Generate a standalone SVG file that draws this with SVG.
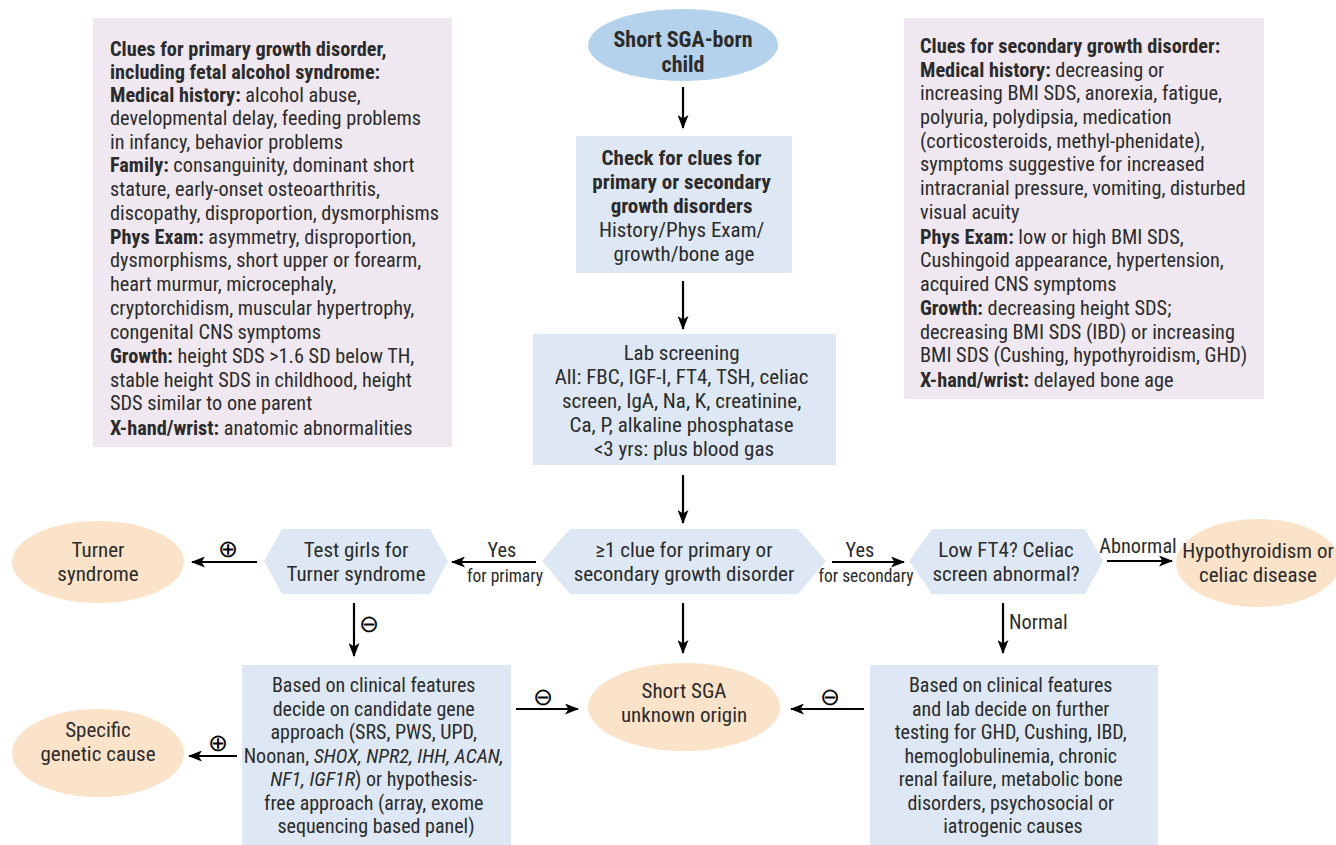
<svg xmlns="http://www.w3.org/2000/svg" width="1336" height="845" viewBox="0 0 1336 845">
<style>
text{font-family:"Liberation Sans Narrow","Roboto Condensed","Liberation Sans",sans-serif;font-size:20.3px;fill:#2b2b2b}
.c{text-anchor:middle}
.b{font-weight:bold}
.i{font-style:italic}
.s{font-size:17.5px}
.big{font-size:21px}
.sm{font-size:20px}
.sym{font-family:"DejaVu Sans",sans-serif;font-size:24px;font-weight:200;fill:#000}
.lav{fill:#efe8f0}
.box{fill:#dde8f4}
.top{fill:#b5d2ec}
.ora{fill:#fbe3c9}
.con line{stroke:#000;stroke-width:2.2;marker-end:url(#ah)}
</style>
<defs>
<marker id="ah" viewBox="0 0 14 11" refX="13" refY="5.5" markerWidth="6.4" markerHeight="5" orient="auto" markerUnits="strokeWidth">
<path d="M0,0 L14,5.5 L0,11 L3.5,5.5 z" fill="#000"/>
</marker>
</defs>
<rect width="1336" height="845" fill="#fff"/>

<g id="primary-clues">
<rect class="lav" x="93" y="18" width="359" height="429"/>
<text x="110" y="56"><tspan class="b">Clues for primary growth disorder,</tspan>
<tspan x="110" dy="22.8" class="b">including fetal alcohol syndrome:</tspan>
<tspan x="110" dy="22.8"><tspan class="b">Medical history:</tspan> alcohol abuse,</tspan>
<tspan x="110" dy="23.5">developmental delay, feeding problems</tspan>
<tspan x="110" dy="23.5">in infancy, behavior problems</tspan>
<tspan x="110" dy="23.7"><tspan class="b">Family:</tspan> consanguinity, dominant short</tspan>
<tspan x="110" dy="23.7">stature, early-onset osteoarthritis,</tspan>
<tspan x="110" dy="24">discopathy, disproportion, dysmorphisms</tspan>
<tspan x="110" dy="23.7"><tspan class="b">Phys Exam:</tspan> asymmetry, disproportion,</tspan>
<tspan x="110" dy="23.7">dysmorphisms, short upper or forearm,</tspan>
<tspan x="110" dy="23.7">heart murmur, microcephaly,</tspan>
<tspan x="110" dy="23.7">cryptorchidism, muscular hypertrophy,</tspan>
<tspan x="110" dy="23.7">congenital CNS symptoms</tspan>
<tspan x="110" dy="24.5"><tspan class="b">Growth:</tspan> height SDS &gt;1.6 SD below TH,</tspan>
<tspan x="110" dy="23.7">stable height SDS in childhood, height</tspan>
<tspan x="110" dy="23.7">SDS similar to one parent</tspan>
<tspan x="110" dy="24.5"><tspan class="b">X-hand/wrist:</tspan> anatomic abnormalities</tspan></text>
</g>

<g id="secondary-clues">
<rect class="lav" x="904" y="18" width="360" height="381"/>
<text x="920" y="53"><tspan class="b">Clues for secondary growth disorder:</tspan>
<tspan x="920" dy="23.5"><tspan class="b">Medical history:</tspan> decreasing or</tspan>
<tspan x="920" dy="23.7">increasing BMI SDS, anorexia, fatigue,</tspan>
<tspan x="920" dy="23.7">polyuria, polydipsia, medication</tspan>
<tspan x="920" dy="23.7">(corticosteroids, methyl-phenidate),</tspan>
<tspan x="920" dy="23.7">symptoms suggestive for increased</tspan>
<tspan x="920" dy="24">intracranial pressure, vomiting, disturbed</tspan>
<tspan x="920" dy="23.7">visual acuity</tspan>
<tspan x="920" dy="24.5"><tspan class="b">Phys Exam:</tspan> low or high BMI SDS,</tspan>
<tspan x="920" dy="23.7">Cushingoid appearance, hypertension,</tspan>
<tspan x="920" dy="23.7">acquired CNS symptoms</tspan>
<tspan x="920" dy="24"><tspan class="b">Growth:</tspan> decreasing height SDS;</tspan>
<tspan x="920" dy="23.7">decreasing BMI SDS (IBD) or increasing</tspan>
<tspan x="920" dy="23.7">BMI SDS (Cushing, hypothyroidism, GHD)</tspan>
<tspan x="920" dy="24.5"><tspan class="b">X-hand/wrist:</tspan> delayed bone age</tspan></text>
</g>

<g id="start">
<ellipse class="top" cx="683" cy="45" rx="95" ry="36"/>
<text class="c b" x="683" y="47" style="font-size:22px"><tspan>Short SGA-born</tspan><tspan x="683" dy="25">child</tspan></text>
</g>

<g id="check">
<rect class="box" x="576" y="136" width="216" height="137"/>
<text class="c big" x="684" y="165"><tspan class="b">Check for clues for</tspan>
<tspan x="684" dy="24" class="b">primary or secondary</tspan>
<tspan x="684" dy="24" class="b">growth disorders</tspan>
<tspan x="684" dy="24">History/Phys Exam/</tspan>
<tspan x="684" dy="24">growth/bone age</tspan></text>
</g>

<g id="lab">
<rect class="box" x="533" y="334" width="303" height="131"/>
<text class="c big" x="684" y="360"><tspan>Lab screening</tspan>
<tspan x="684" dy="24">All: FBC, IGF-I, FT4, TSH, celiac</tspan>
<tspan x="684" dy="24">screen, IgA, Na, K, creatinine,</tspan>
<tspan x="684" dy="24">Ca, P, alkaline phosphatase</tspan>
<tspan x="684" dy="24">&lt;3 yrs: plus blood gas</tspan></text>
</g>

<g id="decision">
<polygon class="box" points="570,529 798,529 826,561 798,594 570,594 542,561"/>
<text class="c big" x="684" y="557"><tspan>≥1 clue for primary or</tspan><tspan x="684" dy="24">secondary growth disorder</tspan></text>
</g>

<g id="turner-test">
<polygon class="box" points="282,529 430,529 448,561 430,594 282,594 264,561"/>
<text class="c big" x="356" y="557"><tspan>Test girls for</tspan><tspan x="356" dy="24">Turner syndrome</tspan></text>
</g>

<g id="turner">
<ellipse class="ora" cx="98" cy="562" rx="86" ry="41"/>
<text class="c big" x="98" y="557"><tspan>Turner</tspan><tspan x="98" dy="24">syndrome</tspan></text>
</g>

<g id="ft4-test">
<polygon class="box" points="932,529 1085,529 1103,561 1085,594 932,594 909,561"/>
<text class="c big" x="1006" y="557"><tspan>Low FT4? Celiac</tspan><tspan x="1006" dy="24">screen abnormal?</tspan></text>
</g>

<g id="hypothyroidism">
<ellipse class="ora" cx="1258" cy="563" rx="82" ry="44"/>
<text class="c big" x="1258" y="558"><tspan>Hypothyroidism or</tspan><tspan x="1258" dy="24">celiac disease</tspan></text>
</g>

<g id="genetic-box">
<rect class="box" x="242" y="665" width="269" height="180"/>
<text class="c sm" x="376" y="692"><tspan>Based on clinical features</tspan>
<tspan x="376" dy="23.5">decide on candidate gene</tspan>
<tspan x="376" dy="23.5">approach (SRS, PWS, UPD,</tspan>
<tspan x="376" dy="23.5">Noonan, <tspan class="i">SHOX, NPR2, IHH, ACAN,</tspan></tspan>
<tspan x="376" dy="23.5"><tspan class="i">NF1, IGF1R</tspan>) or hypothesis-</tspan>
<tspan x="376" dy="23.5">free approach (array, exome</tspan>
<tspan x="376" dy="23.5">sequencing based panel)</tspan></text>
</g>

<g id="specific">
<ellipse class="ora" cx="98" cy="753" rx="86" ry="44"/>
<text class="c big" x="98" y="737"><tspan>Specific</tspan><tspan x="98" dy="24">genetic cause</tspan></text>
</g>

<g id="unknown">
<ellipse class="ora" cx="684" cy="707" rx="96" ry="44"/>
<text class="c big" x="684" y="698"><tspan>Short SGA</tspan><tspan x="684" dy="24">unknown origin</tspan></text>
</g>

<g id="secondary-box">
<rect class="box" x="870" y="665" width="288" height="180"/>
<text class="c sm" x="1013" y="692"><tspan>Based on clinical features</tspan>
<tspan x="1013" dy="23.5">and lab decide on further</tspan>
<tspan x="1013" dy="23.5">testing for GHD, Cushing, IBD,</tspan>
<tspan x="1013" dy="23.5">hemoglobulinemia, chronic</tspan>
<tspan x="1013" dy="23.5">renal failure, metabolic bone</tspan>
<tspan x="1013" dy="23.5">disorders, psychosocial or</tspan>
<tspan x="1013" dy="23.5">iatrogenic causes</tspan></text>
</g>

<g id="connectors" class="con">
<line x1="683" y1="87" x2="683" y2="128"/>
<line x1="683" y1="281" x2="683" y2="329"/>
<line x1="683" y1="475" x2="683" y2="523"/>
<line x1="536" y1="562" x2="452" y2="562"/>
<line x1="832" y1="562" x2="904" y2="562"/>
<line x1="257" y1="562" x2="192" y2="562"/>
<line x1="1107" y1="561" x2="1172" y2="561"/>
<line x1="354" y1="603" x2="354" y2="656"/>
<line x1="683" y1="603" x2="683" y2="653"/>
<line x1="1003" y1="603" x2="1003" y2="653"/>
<line x1="237" y1="756" x2="189" y2="756"/>
<line x1="516" y1="709" x2="578" y2="709"/>
<line x1="864" y1="709" x2="791" y2="709"/>
</g>

<g id="labels">
<text class="c" x="502" y="557">Yes</text>
<text class="c s" x="505" y="582">for primary</text>
<text class="c" x="860" y="557">Yes</text>
<text class="c s" x="866" y="582">for secondary</text>
<text class="c" x="1138" y="553">Abnormal</text>
<text x="1009" y="629">Normal</text>
<text class="c sym" x="228" y="557">⊕</text>
<text class="c sym" x="218" y="751">⊕</text>
<text class="c sym" x="369" y="632">⊖</text>
<text class="c sym" x="543" y="705">⊖</text>
<text class="c sym" x="830" y="705">⊖</text>
</g>
</svg>
